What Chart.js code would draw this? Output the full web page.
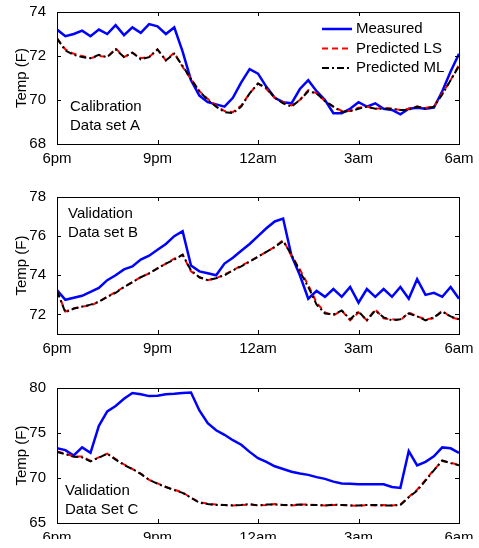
<!DOCTYPE html>
<html>
<head>
<meta charset="utf-8">
<script src="https://cdn.jsdelivr.net/npm/chart.js@4.4.1/dist/chart.umd.min.js"></script>
<style>
  body { margin: 0; background: #fff; }
  #wrap { position: relative; width: 479px; height: 548px; overflow: hidden; }
  .panel { position: absolute; left: 0; width: 479px; overflow: hidden; }
  canvas { position: absolute; left: 0; top: 0; }
</style>
</head>
<body>
<div id="wrap">
  <div class="panel" style="top:0px;height:180px"><canvas id="c1" width="479" height="180"></canvas></div>
  <div class="panel" style="top:180px;height:180px"><canvas id="c2" width="479" height="180"></canvas></div>
  <div class="panel" style="top:360px;height:179px"><canvas id="c3" width="479" height="188"></canvas></div>
</div>
<script>
// Hours after 6pm
const hours = [0,0.25,0.5,0.75,1,1.25,1.5,1.75,2,2.25,2.5,2.75,3,3.25,3.5,3.75,4,4.25,4.5,4.75,5,5.25,5.5,5.75,6,6.25,6.5,6.75,7,7.25,7.5,7.75,8,8.25,8.5,8.75,9,9.25,9.5,9.75,10,10.25,10.5,10.75,11,11.25,11.5,11.75,12];
const xTicks = [0, 3, 6, 9, 12];
const xLabels = ['6pm', '9pm', '12am', '3am', '6am'];
const seriesNames = ['Measured', 'Predicted LS', 'Predicted ML'];

// Calibration data set A
const measuredA = [73.2,72.9,73.0,73.15,72.9,73.2,73.0,73.4,72.95,73.3,73.05,73.45,73.35,73.0,73.3,72.2,70.9,70.2,69.9,69.8,69.7,70.1,70.8,71.4,71.2,70.6,70.1,69.9,69.85,70.5,70.9,70.4,70.0,69.4,69.4,69.6,69.9,69.7,69.85,69.6,69.55,69.35,69.6,69.65,69.6,69.65,70.4,71.3,72.1];
const lsA = [72.8,72.3,72.1,72.0,71.9,72.0,71.95,72.35,71.95,72.15,71.9,71.95,72.3,71.8,72.15,71.5,70.95,70.4,70.05,69.75,69.5,69.45,69.75,70.3,70.75,70.5,70.1,69.9,69.75,70.0,70.45,70.3,69.95,69.7,69.5,69.5,69.65,69.7,69.6,69.65,69.6,69.55,69.6,69.7,69.65,69.7,70.3,70.9,71.6];
const mlA = [72.8,72.25,72.05,71.95,71.9,72.05,71.95,72.3,71.95,72.15,71.85,71.95,72.3,71.8,72.1,71.55,70.95,70.4,70.0,69.7,69.45,69.4,69.7,70.3,70.75,70.55,70.1,69.85,69.7,70.0,70.4,70.3,69.95,69.7,69.45,69.5,69.6,69.7,69.6,69.6,69.6,69.55,69.55,69.7,69.6,69.7,70.25,70.9,71.55];
const yTicksA = [68, 70, 72, 74];

// Validation data set B
const measuredB = [73.25,72.75,72.85,72.95,73.15,73.35,73.75,74.0,74.3,74.45,74.8,75.0,75.3,75.6,76.0,76.25,74.5,74.2,74.1,74.0,74.6,74.9,75.25,75.6,76.0,76.4,76.75,76.9,75.0,74.0,72.8,73.2,72.9,73.3,72.9,73.4,72.6,73.3,72.9,73.3,72.9,73.4,72.8,73.8,73.0,73.1,72.9,73.4,72.8];
const lsB = [73.2,72.15,72.3,72.4,72.45,72.65,72.9,73.15,73.4,73.65,73.9,74.1,74.35,74.6,74.85,75.05,74.2,73.9,73.75,73.85,74.05,74.25,74.5,74.7,74.95,75.2,75.45,75.8,75.0,74.3,73.5,72.6,72.1,71.95,72.2,71.7,72.1,71.7,72.25,71.8,71.75,71.7,72.1,71.9,71.75,71.8,72.2,71.85,71.75];
const mlB = [73.2,72.1,72.3,72.4,72.5,72.65,72.9,73.1,73.4,73.65,73.9,74.1,74.35,74.6,74.8,75.05,74.25,73.9,73.75,73.85,74.0,74.25,74.45,74.7,74.95,75.2,75.45,75.75,75.05,74.2,73.4,72.5,72.05,72.0,72.2,71.75,72.15,71.7,72.2,71.85,71.7,71.75,72.05,71.9,71.7,71.85,72.15,71.9,71.75];
const yTicksB = [72, 74, 76, 78];

// Validation data set C
const measuredC = [73.3,73.1,72.5,73.4,72.8,75.8,77.4,78.0,78.8,79.45,79.3,79.1,79.15,79.3,79.35,79.45,79.5,77.5,76.1,75.3,74.8,74.2,73.7,72.9,72.2,71.8,71.3,71.0,70.7,70.5,70.35,70.1,69.9,69.6,69.4,69.35,69.3,69.3,69.3,69.3,69.0,68.9,73.0,71.4,71.8,72.4,73.4,73.3,72.8];
const lsC = [72.95,72.7,72.4,72.4,71.9,72.3,72.7,72.1,71.5,71.0,70.5,69.8,69.4,69.0,68.7,68.4,67.8,67.3,67.15,67.05,67.0,66.95,67.0,67.05,66.95,67.0,67.1,67.0,66.95,67.05,67.05,67.0,66.95,67.0,67.0,66.95,66.9,67.0,66.95,67.0,66.95,67.05,67.9,68.7,69.8,70.9,71.9,71.7,71.45];
const mlC = [72.9,72.65,72.35,72.3,71.85,72.25,72.7,72.05,71.45,71.0,70.45,69.8,69.35,69.0,68.65,68.35,67.8,67.25,67.1,67.0,67.0,66.95,67.0,67.1,66.95,67.05,67.05,67.0,67.0,67.05,67.0,67.0,66.95,67.05,67.0,66.95,66.95,67.0,67.0,66.95,66.95,67.0,67.85,68.6,69.7,70.85,71.95,71.65,71.4];
const yTicksC = [65, 70, 75, 80];

const FONT = '"Liberation Sans", Arial, sans-serif';
Chart.defaults.font.family = FONT;
Chart.defaults.font.size = 15;
Chart.defaults.color = '#000';

const styles = [
  { borderColor: '#0000ff', borderWidth: 2.5, borderDash: [], order: 3 },
  { borderColor: '#ff0000', borderWidth: 2, borderDash: [6, 4], order: 2 },
  { borderColor: '#000000', borderWidth: 2, borderDash: [7, 3, 2, 3], order: 1 }
];

// box, inward ticks, text notes and legend drawn like a MATLAB axes
const axesDeco = {
  id: 'axesDeco',
  afterDatasetsDraw(chart, args, opts) {
    const { ctx, chartArea: a, scales: { x, y } } = chart;
    ctx.save();
    ctx.strokeStyle = '#000';
    ctx.lineWidth = 1;
    ctx.setLineDash([]);
    ctx.strokeRect(Math.round(a.left) + 0.5, Math.round(a.top) + 0.5, Math.round(a.right - a.left), Math.round(a.bottom - a.top));
    ctx.beginPath();
    x.ticks.forEach(t => {
      const px = Math.round(x.getPixelForValue(t.value)) + 0.5;
      ctx.moveTo(px, a.bottom); ctx.lineTo(px, a.bottom - 4);
      ctx.moveTo(px, a.top); ctx.lineTo(px, a.top + 4);
    });
    y.ticks.forEach(t => {
      const py = Math.round(y.getPixelForValue(t.value)) + 0.5;
      ctx.moveTo(a.left, py); ctx.lineTo(a.left + 4, py);
      ctx.moveTo(a.right, py); ctx.lineTo(a.right - 4, py);
    });
    ctx.stroke();

    ctx.font = '15px ' + FONT;
    ctx.fillStyle = '#000';
    ctx.textBaseline = 'middle';
    ctx.textAlign = 'left';
    opts.note.forEach((line, i) => ctx.fillText(line, a.left + opts.noteX, a.top + opts.noteY + i * 18.5));

    if (opts.legend) {
      seriesNames.forEach((name, i) => {
        const ly = a.top + 17 + i * 19.5;
        const s = styles[i];
        ctx.beginPath();
        ctx.strokeStyle = s.borderColor;
        ctx.lineWidth = s.borderWidth;
        ctx.setLineDash(s.borderDash);
        ctx.moveTo(a.left + 265, ly);
        ctx.lineTo(a.left + 295, ly);
        ctx.stroke();
        ctx.setLineDash([]);
        ctx.fillStyle = '#000';
        ctx.fillText(name, a.left + 299, ly);
      });
    }
    ctx.restore();
  }
};

function makeChart(id, series, yMin, yMax, yTicks, pad, deco) {
  new Chart(document.getElementById(id), {
    type: 'line',
    data: {
      datasets: series.map((vals, i) => ({
        label: seriesNames[i],
        data: hours.map((h, k) => ({ x: h, y: vals[k] })),
        borderColor: styles[i].borderColor,
        borderWidth: styles[i].borderWidth,
        borderDash: styles[i].borderDash,
        order: styles[i].order,
        pointRadius: 0,
        tension: 0,
        fill: false
      }))
    },
    options: {
      responsive: false,
      animation: false,
      events: [],
      layout: { padding: pad },
      plugins: { legend: { display: false }, tooltip: { enabled: false }, axesDeco: deco },
      scales: {
        x: {
          type: 'linear', min: 0, max: 12,
          afterBuildTicks: s => { s.ticks = xTicks.map(v => ({ value: v })); },
          afterFit: s => { s.height = 25; },
          grid: { display: false },
          border: { display: false },
          ticks: { padding: -2, maxRotation: 0, autoSkip: false, callback: v => xLabels[xTicks.indexOf(v)] }
        },
        y: {
          min: yMin, max: yMax,
          afterBuildTicks: s => { s.ticks = yTicks.map(v => ({ value: v })); },
          afterFit: s => { s.width = 57; },
          grid: { display: false },
          border: { display: false },
          ticks: { padding: 3, autoSkip: false },
          title: { display: true, text: 'Temp (F)', padding: { top: 13, bottom: 0 } }
        }
      }
    },
    plugins: [axesDeco]
  });
}

makeChart('c1', [measuredA, lsA, mlA], 68, 74, yTicksA,
  { left: 0, right: 20, top: 8, bottom: 11 },
  { note: ['Calibration', 'Data set A'], noteX: 13, noteY: 95, legend: true });
makeChart('c2', [measuredB, lsB, mlB], 71, 78, yTicksB,
  { left: 0, right: 20, top: 17, bottom: 1 },
  { note: ['Validation', 'Data set B'], noteX: 11, noteY: 17, legend: false });
makeChart('c3', [measuredC, lsC, mlC], 65, 80, yTicksC,
  { left: 0, right: 20, top: 28, bottom: 0 },
  { note: ['Validation', 'Data Set C'], noteX: 8, noteY: 103, legend: false });
</script>
</body>
</html>
